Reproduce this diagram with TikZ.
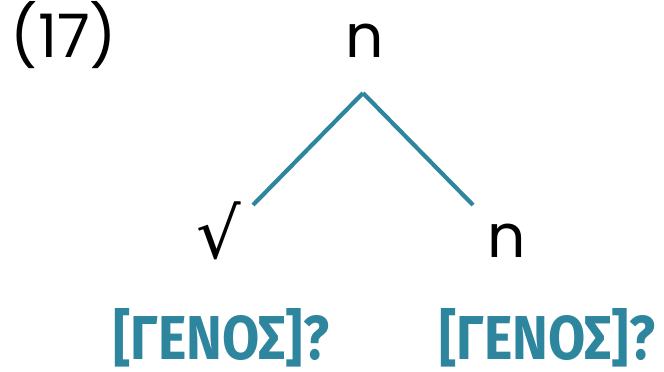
\documentclass[tikz,border=0pt]{standalone}
\usepackage{fontspec}
\setmainfont{Poppins}
\newfontfamily\symfont{DejaVu Sans}
\newfontfamily\grkfont[FakeStretch=0.87]{Fira Sans}
\usepackage{tikz}
\definecolor{treeteal}{RGB}{46,134,158}

\begin{document}
\begin{tikzpicture}[x=1pt,y=-1pt,
                    every node/.style={inner sep=0pt,anchor=base},
                    lbl/.style={font=\fontsize{60}{60}\selectfont},
                    feat/.style={font=\grkfont\bfseries\fontsize{62}{62}\selectfont,text=treeteal},
                    branch/.style={draw=treeteal,line width=4.2pt}]
  \useasboundingbox (0,0) rectangle (664,372);
  % example number, root n, then the two daughters with their features
  \node[lbl] (num) at (64,57) {(17)};
  \node[lbl] (root) at (365,57) {n};
  \node[font=\symfont\fontsize{70}{70}\selectfont] (sq) at (219,258) {√};
  \node[lbl] (nr) at (507,257) {n};
  \node[feat] (fl) at (221,359) {[ΓΕΝΟΣ]?};
  \node[feat] (fr) at (547,359) {[ΓΕΝΟΣ]?};
  \coordinate (apex) at (363,93);
  \coordinate (lend) at (253,205);
  \coordinate (rend) at (473,205);
  \foreach \x in {lend,rend}{\draw[branch] (apex)--(\x);}
\end{tikzpicture}
\end{document}
